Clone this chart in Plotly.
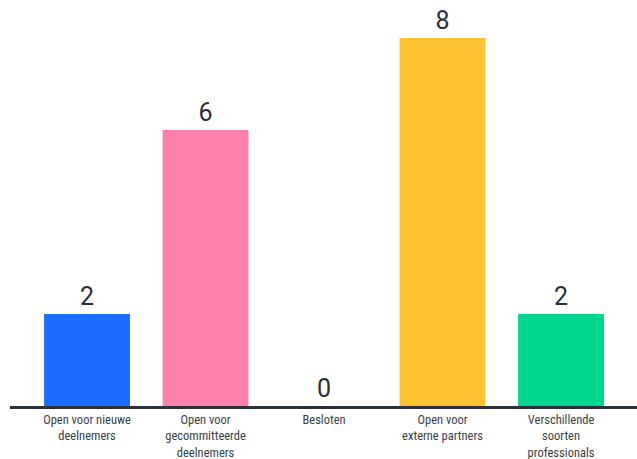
import plotly.graph_objects as go

categories = ["Open voor nieuwe<br>deelnemers", "Open voor<br>gecommitteerde<br>deelnemers", "Besloten",
              "Open voor<br>externe partners", "Verschillende<br>soorten<br>professionals"]
values = [2, 6, 0, 8, 2]
colors = ["#1a6dff", "#ff80aa", "#cccccc", "#ffc233", "#00d68f"]

fig = go.Figure(go.Bar(
    x=list(range(len(categories))), y=values,
    marker=dict(color=colors, line=dict(width=0)),
    width=0.725,
    text=[str(v) for v in values], textposition="outside",
    textfont=dict(family="Roboto", size=25, color="#2b2f36"),
    cliponaxis=False,
))

fig.update_layout(
    width=637, height=459,
    margin=dict(l=10, r=0, t=0, b=53),
    paper_bgcolor="white", plot_bgcolor="white",
    showlegend=False,
    xaxis=dict(range=[-0.65, 4.641], tickmode="array", tickvals=list(range(len(categories))),
               ticktext=categories, showline=True, linecolor="#2b303b", linewidth=3,
               showgrid=False, zeroline=False, ticks="",
               tickfont=dict(family="Liberation Sans Narrow, Roboto Condensed, Arial Narrow, sans-serif",
                             size=12.5, color="#3a3f47")),
    yaxis=dict(range=[0, 406 / 46], visible=False, showgrid=False, zeroline=False),
)

fig.write_html("out.html", config={"displayModeBar": False},
               post_script="document.body.style.margin='0';document.body.style.overflow='hidden';")
